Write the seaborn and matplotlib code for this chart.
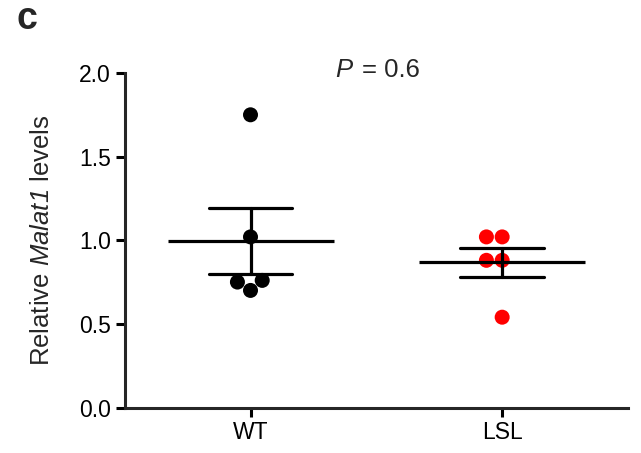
import pandas as pd
import seaborn as sns
import matplotlib.pyplot as plt

# values
groups = ["WT", "LSL"]
wt_values = [1.75, 1.02, 0.76, 0.70, 0.75]
lsl_values = [1.02, 1.02, 0.88, 0.88, 0.54]
p_text = "= 0.6"

df = pd.DataFrame({
    "group": ["WT"] * len(wt_values) + ["LSL"] * len(lsl_values),
    "value": wt_values + lsl_values,
})

sns.set_style("ticks")
plt.rcParams["font.family"] = ["Liberation Sans", "DejaVu Sans"]
# math text only used for the italic gene name (digit included)
plt.rcParams["mathtext.fontset"] = "custom"
plt.rcParams["mathtext.rm"] = "Liberation Sans:italic"
plt.rcParams["mathtext.it"] = "Liberation Sans:italic"

fig = plt.figure(figsize=(6.41, 4.53), dpi=100)
ax = fig.add_axes([0.1945, 0.1004, 0.7852, 0.7385])

# individual points
sns.swarmplot(data=df, x="group", y="value", hue="group", order=groups,
              palette={"WT": "black", "LSL": "#ff0000"}, size=10.8,
              linewidth=0, legend=False, ax=ax, zorder=2)

# mean +/- SEM
sns.pointplot(data=df, x="group", y="value", order=groups, errorbar="se",
              capsize=0.333, linestyle="none", marker="_", markersize=120,
              markeredgewidth=2.3, color="black",
              err_kws={"linewidth": 2.3}, ax=ax, zorder=3)

ax.set_xlim(-0.5, 1.5)
ax.set_ylim(0, 2.0)
ax.set_yticks([0, 0.5, 1.0, 1.5, 2.0])
ax.set_yticklabels(["0.0", "0.5", "1.0", "1.5", "2.0"])
ax.set_xlabel("")
ax.set_ylabel(r"Relative $\mathrm{Malat1}$ levels", fontsize=18.5, labelpad=18)

for side in ["top", "right"]:
    ax.spines[side].set_visible(False)
for side in ["left", "bottom"]:
    ax.spines[side].set_linewidth(2.2)
ax.tick_params(axis="both", width=2.2, length=6.5, labelsize=16.5, pad=3.5,
               color="black", labelcolor="black")

ax.text(0.335, 2.015, "P", style="italic", fontsize=18.5, ha="left", va="center")
ax.text(0.675, 2.015, p_text, fontsize=18.5, ha="right", va="center")

fig.text(0.026, 0.957, "c", fontsize=27, fontweight="bold", va="center")

fig.savefig("out.png", dpi=100)
